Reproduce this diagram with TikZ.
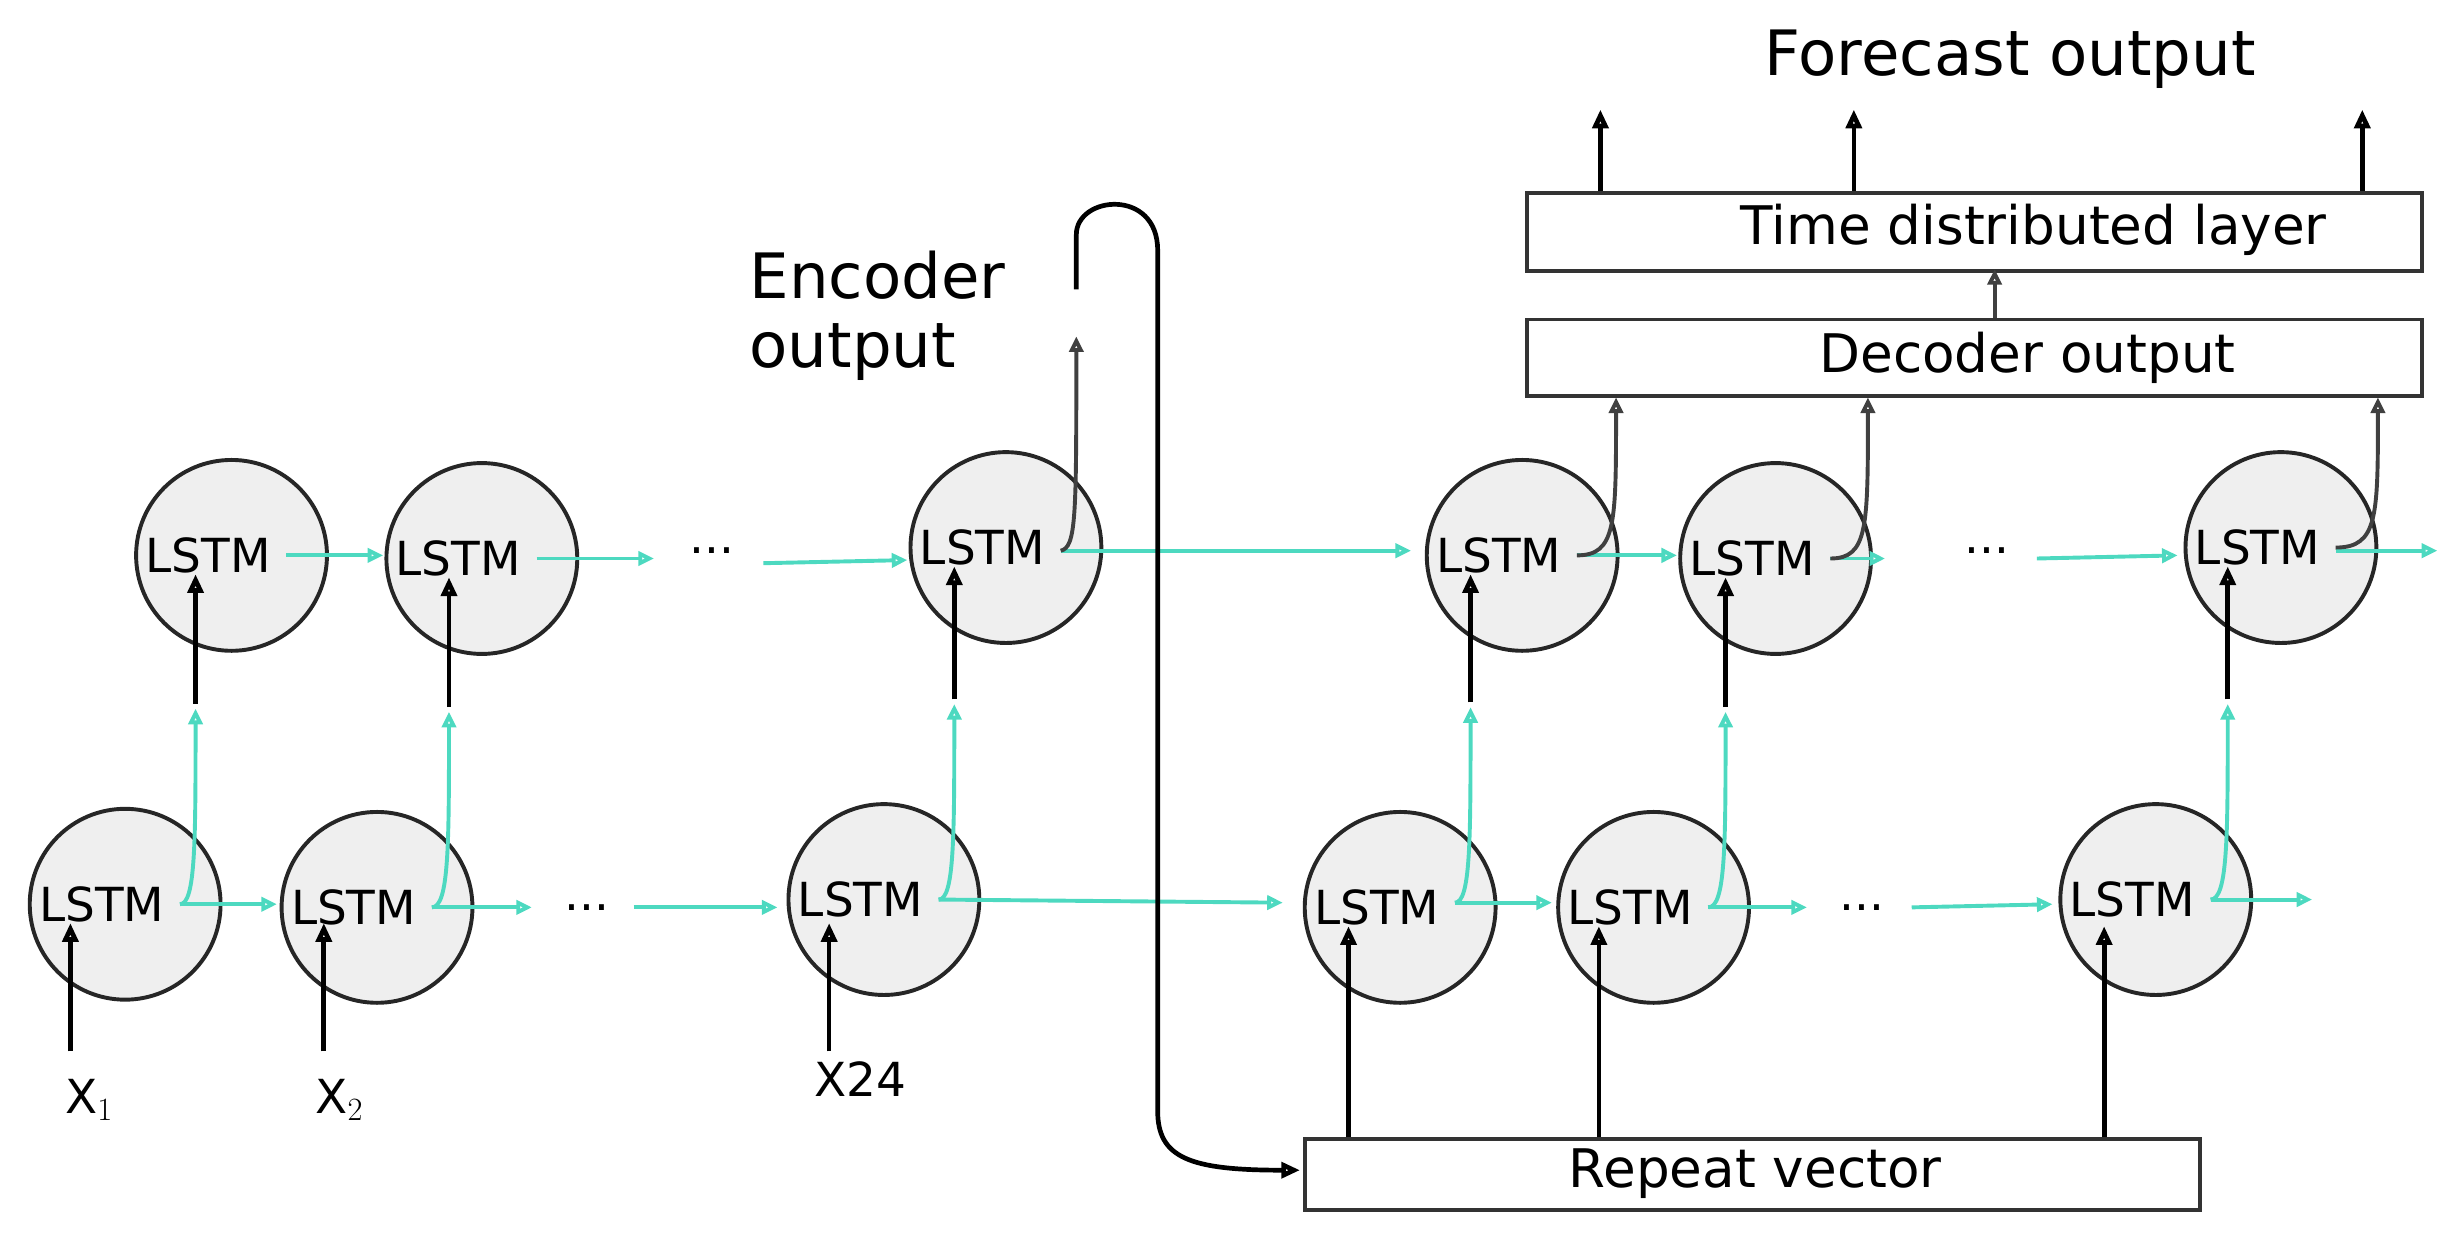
\documentclass[tikz,border=0pt]{standalone}
\usepackage{fontspec}
\setmainfont{DejaVu Sans}
\usetikzlibrary{arrows.meta}
\definecolor{teal}{RGB}{77,217,192}
\definecolor{cellfill}{RGB}{239,239,239}
\tikzset{
  cell/.style={circle,draw=black!85,line width=2.5pt,fill=cellfill,minimum size=122pt,inner sep=0pt},
  lbl/.style={font=\fontsize{30}{34}\selectfont,inner sep=1pt},
  box/.style={draw=black!80,line width=2.5pt,anchor=north west,inner sep=0pt},
  tarr/.style={teal,line width=2.5pt,-{Triangle[open,length=10pt,width=9pt]}},
  karr/.style={black,line width=3pt,-{Triangle[open,length=12pt,width=10pt]}},
  garr/.style={black!75,line width=2.5pt,-{Triangle[open,length=10pt,width=9pt]}},
}
\begin{document}
\begin{tikzpicture}[x=1pt,y=-1pt]
\useasboundingbox (0,0) rectangle (1568,790);
% cells
\foreach \n/\x/\y in {b1/80/578,b2/241/580,b3/565/575,b4/895/580,b5/1057/580,b6/1378/575,
                      t1/148/355,t2/308/357,t3/643/350,t4/973/355,t5/1135/357,t6/1458/350}
  {\node[cell] (\n) at (\x,\y) {}; \node[lbl] (\n l) at (\x-15,\y) {LSTM};}
% boxes
\node[box,minimum width=572pt,minimum height=45pt] (rep) at (833,727) {};
\node[lbl,font=\fontsize{34}{38}\selectfont] (repl) at (1122,750) {Repeat vector};
\node[box,minimum width=572pt,minimum height=49pt] (dec) at (975,203) {};
\node[lbl,font=\fontsize{34}{38}\selectfont] (decl) at (1296,229) {Decoder output};
\node[box,minimum width=572pt,minimum height=50pt] (tdl) at (975,122) {};
\node[lbl,font=\fontsize{34}{38}\selectfont] (tdll) at (1300,147) {Time distributed layer};
\node[lbl,font=\fontsize{40}{44}\selectfont] (fc) at (1285,38) {Forecast output};
\node[lbl,font=\fontsize{40}{44}\selectfont,align=left,anchor=west] (enc) at (478,202) {Encoder\\output};
% dots
\foreach \n/\x/\y in {d1/375/580,d2/1190/580,d3/455/352,d4/1270/352}
  \node[lbl] (\n) at (\x,\y) {...};
% inputs
\node[lbl] (x1) at (57,703) {X$_1$};
\node[lbl] (x2) at (217,703) {X$_2$};
\node[lbl] (x24) at (550,690) {X24};
\foreach \c/\x/\a in {x1/45/b1,x2/207/b2,x24/530/b3}
  \draw[karr] (\x,672) -- (\x,590);
% bottom horizontal
\draw[tarr] (115,578) -- (177,578);
\draw[tarr] (276,580) -- (340,580);
\draw[tarr] (405,580) -- (497,580);
\draw[tarr] (600,575) -- (820,577);
\draw[tarr] (930,577) -- (992,577);
\draw[tarr] (1092,580) -- (1155,580);
\draw[tarr] (1222,580) -- (1312,578);
\draw[tarr] (1413,575) -- (1478,575);
% top horizontal
\draw[tarr] (183,355) -- (245,355);
\draw[tarr] (343,357) -- (418,357);
\draw[tarr] (488,360) -- (580,358);
\draw[tarr] (678,352) -- (902,352);
\draw[tarr] (1008,355) -- (1072,355);
\draw[tarr] (1170,357) -- (1205,357);
\draw[tarr] (1302,357) -- (1392,355);
\draw[tarr] (1493,352) -- (1558,352);
% bottom-to-top links
\foreach \bx/\by/\tx/\ty in {115/578/125/355,276/580/287/357,600/575/610/350,930/577/940/355,1092/580/1103/357,1413/575/1424/350}
{
  \draw[tarr] (\bx,\by) .. controls (\tx,\by) and (\tx,\by-40) .. (\tx,\by-125);
  \draw[karr] (\tx,\by-128) -- (\tx,\ty+12);
}
% encoder output
\draw[garr] (678,352) .. controls (688,350) and (688,330) .. (688,215);
\draw[black,line width=3pt,-{Triangle[open,length=12pt,width=10pt]}] (688,185) -- (688,150) .. controls (688,125) and (740,120) .. (740,160) -- (740,710) .. controls (740,740) and (760,748) .. (831,748);
% repeat vector to decoder
\foreach \x in {862,1022,1345}
  \draw[karr] (\x,727) -- (\x,592);
% decoder cells to decoder output
\foreach \sx/\sy/\tx in {1008/355/1033,1170/357/1194,1493/350/1520}
  \draw[garr] (\sx,\sy) .. controls (\tx,\sy) and (\tx,\sy-20) .. (\tx,254);
\draw[garr] (1275,203) -- (1275,172);
\foreach \x in {1023,1185,1510}
  \draw[karr] (\x,122) -- (\x,70);
\end{tikzpicture}
\end{document}
